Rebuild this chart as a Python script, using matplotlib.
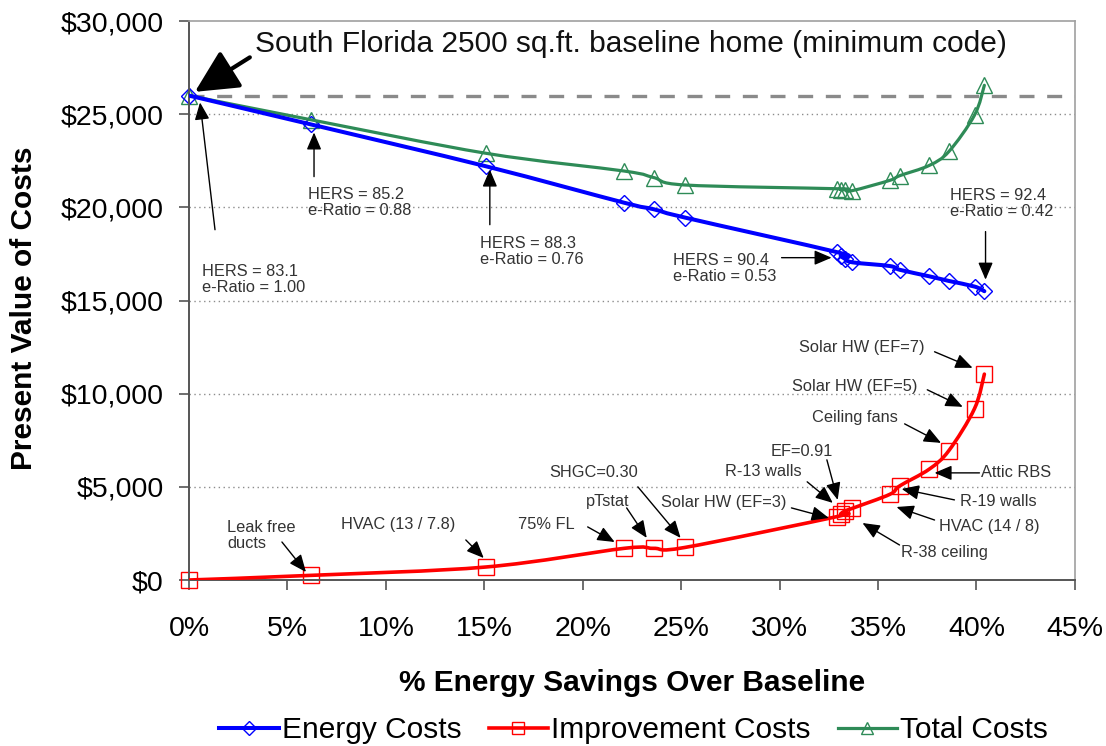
import numpy as np
import matplotlib
matplotlib.use("Agg")
import matplotlib.pyplot as plt
from matplotlib.path import Path
from matplotlib.patches import PathPatch
from matplotlib.lines import Line2D
from matplotlib import font_manager

# data (x = % energy savings, y = $ present value)
savings = [0.0, 6.2, 15.1, 22.1, 23.6, 25.2, 32.9, 33.1, 33.3, 33.7,
           35.6, 36.1, 37.6, 38.6, 39.9, 40.4]
energy_costs = [26000, 24450, 22200, 20250, 19900, 19450, 17600, 17400, 17250, 17050,
                16850, 16650, 16300, 16050, 15750, 15500]
improvement_costs = [0, 250, 700, 1700, 1700, 1750, 3400, 3550, 3700, 3850,
                     4600, 5050, 5950, 6950, 9200, 11050]
total_costs = [26000, 24700, 22900, 21950, 21600, 21200, 21000, 20950, 20950, 20900,
               21450, 21700, 22250, 23000, 24950, 26550]
baseline_cost = 26000

x_ticks = [0, 5, 10, 15, 20, 25, 30, 35, 40, 45]
y_ticks = [0, 5000, 10000, 15000, 20000, 25000, 30000]

# annotation: label, text x, text y, ha, arrow from (x, y), arrow to (x, y)
hers_notes = [
    ("HERS = 83.1\ne-Ratio = 1.00", 0.66, 16120, "left", (1.32, 18800), (0.56, 25630)),
    ("HERS = 85.2\ne-Ratio = 0.88", 6.04, 20260, "left", (6.35, 21650), (6.35, 24020)),
    ("HERS = 88.3\ne-Ratio = 0.76", 14.77, 17620, "left", (15.28, 19070), (15.28, 22030)),
    ("HERS = 90.4\ne-Ratio = 0.53", 24.57, 16710, "left", (30.1, 17300), (32.64, 17300)),
    ("HERS = 92.4\ne-Ratio = 0.42", 38.63, 20200, "left", (40.46, 18700), (40.46, 16120)),
]
measure_notes = [
    ("Leak free\nducts", 1.93, 2390, "left", (4.72, 2040), (5.94, 430)),
    ("HVAC (13 / 7.8)", 7.72, 2955, "left", (14.06, 2150), (14.97, 1180)),
    ("75% FL", 16.7, 2955, "left", (20.25, 2850), (21.62, 2040)),
    ("pTstat", 20.15, 4190, "left", (22.23, 3870), (23.25, 2260)),
    ("SHGC=0.30", 18.3, 5750, "left", (22.8, 5000), (24.97, 2260)),
    ("Solar HW (EF=3)", 30.36, 4140, "right", (30.6, 3870), (32.5, 3330)),
    ("R-13 walls", 31.1, 5800, "right", (31.4, 5270), (32.7, 4140)),
    ("EF=0.91", 32.7, 6880, "right", (32.4, 6450), (32.95, 4300)),
    ("Ceiling fans", 36.0, 8700, "right", (36.35, 8380), (38.2, 7360)),
    ("Solar HW (EF=5)", 37.0, 10370, "right", (37.5, 10210), (39.3, 9295)),
    ("Solar HW (EF=7)", 37.36, 12465, "right", (37.87, 12250), (39.8, 11390)),
    ("Attic RBS", 40.25, 5750, "left", (40.15, 5750), (37.87, 5750)),
    ("R-19 walls", 39.14, 4190, "left", (38.88, 4300), (36.2, 4890)),
    ("HVAC (14 / 8)", 38.12, 2850, "left", (37.87, 3220), (35.94, 3920)),
    ("R-38 ceiling", 36.19, 1450, "left", (36.09, 1880), (34.21, 3060)),
]

plt.rcParams["font.family"] = ["Liberation Sans", "DejaVu Sans"]
names = {f.name for f in font_manager.fontManager.ttflist}
if "Liberation Sans Narrow" in names:
    note_font, note_size = ["Liberation Sans Narrow", "Liberation Sans"], 14.5
else:
    note_font, note_size = ["Liberation Sans", "DejaVu Sans"], 11.8


def smooth_path(xs, ys):
    # Excel style smoothed line: Catmull-Rom segments as cubic Bezier curves
    pts = np.column_stack([xs, ys]).astype(float)
    n = len(pts)
    verts = [pts[0]]
    codes = [Path.MOVETO]
    for i in range(n - 1):
        p0 = pts[max(i - 1, 0)]
        p1 = pts[i]
        p2 = pts[i + 1]
        p3 = pts[min(i + 2, n - 1)]
        verts += [p1 + (p2 - p0) / 6, p2 - (p3 - p1) / 6, p2]
        codes += [Path.CURVE4] * 3
    return Path(verts, codes)


fig = plt.figure(figsize=(11.06, 7.46), dpi=100)
ax = fig.add_axes([0.1709, 0.2225, 0.801, 0.7493])

ax.set_xlim(0, 45)
ax.set_ylim(0, 30000)

for v in y_ticks[1:-1]:
    ax.axhline(v, color="#8c8c8c", lw=1, ls=(0, (1, 2.5)), zorder=1)
ax.axhline(baseline_cost, color="#8a8a8a", lw=2.4, ls=(0, (4.5, 3.8)), zorder=1.5)

series = [
    (total_costs, "#2e8b57", "^", 11, 2.3, "Total Costs"),
    (improvement_costs, "#ff0000", "s", 11, 2.6, "Improvement Costs"),
    (energy_costs, "#0000ff", "D", 8.5, 2.9, "Energy Costs"),
]
handles = {}
for vals, col, mk, ms, lw, name in series:
    ax.add_patch(PathPatch(smooth_path(savings, vals), fill=False, edgecolor=col,
                           lw=lw, zorder=3, capstyle="round", joinstyle="round"))
    ax.plot(savings, vals, ls="none", marker=mk, ms=ms, mfc="none", mec=col,
            mew=1.0, zorder=2.5, clip_on=False)
    handles[name] = Line2D([], [], color=col, lw=lw, marker=mk, ms=ms * 0.85,
                           mfc="none", mec=col, mew=1.0)

arrow_small = dict(arrowstyle="-|>,head_length=0.75,head_width=0.32", color="black",
                   lw=1.0, mutation_scale=14, shrinkA=0, shrinkB=0)
for label, tx, ty, ha, p0, p1 in hers_notes + measure_notes:
    ax.text(tx, ty, label, ha=ha, va="center", fontsize=note_size, family=note_font,
            color="#333333", linespacing=1.05, zorder=5)
    ax.annotate("", xy=p1, xytext=p0, arrowprops=arrow_small, zorder=5)

ax.annotate("South Florida 2500 sq.ft. baseline home (minimum code)",
            xy=(0.3, 26200), xytext=(3.35, 28750), ha="left", va="center",
            fontsize=21.5, color="#111111", zorder=6,
            arrowprops=dict(arrowstyle="-|>,head_length=1.2,head_width=0.6",
                            color="black", lw=3, mutation_scale=22,
                            relpos=(0, 0.15), shrinkA=2, shrinkB=0))

ax.set_xticks(x_ticks)
ax.set_xticklabels(["{}%".format(t) for t in x_ticks])
ax.set_yticks(y_ticks)
ax.set_yticklabels(["${:,}".format(t) for t in y_ticks])
ax.tick_params(axis="x", direction="out", length=7.2, width=1.2, color="#555555",
               labelsize=20.5, pad=19)
ax.tick_params(axis="y", direction="out", length=7.2, width=1.2, color="#555555",
               labelsize=20.5, pad=11)

for side in ["left", "bottom"]:
    ax.spines[side].set_color("#555555")
    ax.spines[side].set_linewidth(1.4)
for side in ["top", "right"]:
    ax.spines[side].set_color("#a0a0a0")
    ax.spines[side].set_linewidth(1.2)

ax.set_xlabel("% Energy Savings Over Baseline", fontsize=21.5, fontweight="bold")
ax.xaxis.set_label_coords(0.5, -0.1845)
ax.xaxis.label.set_va("center")
ax.set_ylabel("Present Value of Costs", fontsize=21.5, fontweight="bold")
ax.yaxis.set_label_coords(-0.186, 0.487)
ax.yaxis.label.set_va("center")

order = ["Energy Costs", "Improvement Costs", "Total Costs"]
fig.legend([handles[k] for k in order], order, loc="center",
           bbox_to_anchor=(0.573, 0.0214), ncol=3, frameon=False, fontsize=21.5,
           handlelength=2.0, handletextpad=0.1, columnspacing=0.9)

fig.savefig("out.png", dpi=100)
